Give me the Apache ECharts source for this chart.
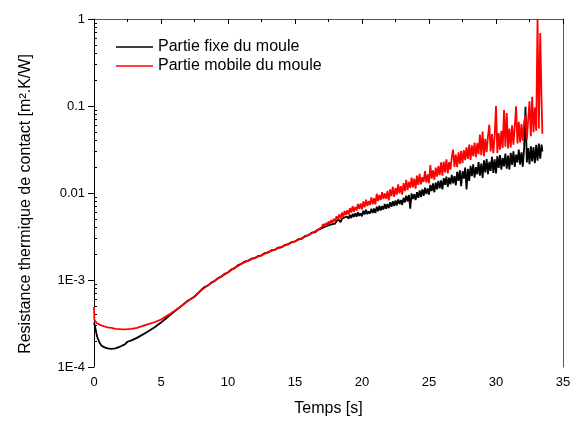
<!DOCTYPE html>
<html><head><meta charset="utf-8">
<script src="https://cdn.jsdelivr.net/npm/echarts@6/dist/echarts.min.js"></script>
<style>html,body{margin:0;padding:0;background:#fff}#c{width:577px;height:422px}</style>
</head><body><div id="c"></div><script>
const seriesNames = ['Partie fixe du moule', 'Partie mobile du moule'];
const yTickLabels = ['1E-4', '1E-3', '0.01', '0.1', '1'];

const time = [
 0, 0.03, 0.1, 0.2, 0.3, 0.45, 0.6, 0.8, 1.0, 1.3,
 1.6, 2.0, 2.3, 2.5, 2.8, 3.2, 3.6, 4.0, 4.5, 5.0,
 5.5, 6.0, 6.5, 7.0, 7.5,
 8.0, 8.25, 8.5, 8.75, 9.0, 9.25, 9.5, 9.75,
 10.0, 10.25, 10.5, 10.75, 11.0, 11.25, 11.5, 11.75,
 12.0, 12.25, 12.5, 12.75, 13.0, 13.25, 13.5, 13.75,
 14.0, 14.25, 14.5, 14.75, 15.0, 15.25, 15.5, 15.75,
 16.0, 16.25, 16.5, 16.75,
 17.0, 17.1, 17.2, 17.3, 17.4, 17.5, 17.6, 17.7, 17.8, 17.9,
 18.0, 18.1, 18.2, 18.3, 18.4, 18.5, 18.6, 18.7, 18.8, 18.9,
 19.0, 19.1, 19.2, 19.3, 19.4, 19.5, 19.6, 19.7, 19.8, 19.9,
 20.0, 20.1, 20.2, 20.3, 20.4, 20.5, 20.6, 20.7, 20.8, 20.9,
 21.0, 21.1, 21.2, 21.3, 21.4, 21.5, 21.6, 21.7, 21.8, 21.9,
 22.0, 22.1, 22.2, 22.3, 22.4, 22.5, 22.6, 22.7, 22.8, 22.9,
 23.0, 23.1, 23.2, 23.3, 23.4, 23.5, 23.6, 23.7, 23.8, 23.9,
 24.0, 24.1, 24.2, 24.3, 24.4, 24.5, 24.6, 24.7, 24.8, 24.9,
 25.0, 25.1, 25.2, 25.3, 25.4, 25.5, 25.6, 25.7, 25.8, 25.9,
 26.0, 26.1, 26.2, 26.3, 26.4, 26.5, 26.6, 26.7, 26.8, 26.9,
 27.0, 27.1, 27.2, 27.3, 27.4, 27.5, 27.6, 27.7, 27.8, 27.9,
 28.0, 28.1, 28.2, 28.3, 28.4, 28.5, 28.6, 28.7, 28.8, 28.9,
 29.0, 29.1, 29.2, 29.3, 29.4, 29.5, 29.6, 29.7, 29.8, 29.9,
 30.0, 30.1, 30.2, 30.3, 30.4, 30.5, 30.6, 30.7, 30.8, 30.9,
 31.0, 31.1, 31.2, 31.3, 31.4, 31.5, 31.6, 31.7, 31.8, 31.9,
 32.0, 32.1, 32.2, 32.3, 32.4, 32.5, 32.6, 32.7, 32.8, 32.9,
 33.0, 33.1, 33.2, 33.3, 33.4, 33.46
];

const partieFixe = [
 3.24e-4, 3.09e-4, 2.82e-4, 2.34e-4, 2.09e-4, 1.86e-4, 1.74e-4, 1.68e-4, 1.64e-4, 1.62e-4,
 1.64e-4, 1.73e-4, 1.82e-4, 1.95e-4, 2.02e-4, 2.16e-4, 2.34e-4, 2.54e-4, 2.85e-4, 3.24e-4,
 3.76e-4, 4.35e-4, 5.01e-4, 5.78e-4, 6.42e-4,
 7.67e-4, 8.30e-4, 8.62e-4, 9.35e-4, 9.70e-4, 1.05e-3, 1.09e-3, 1.18e-3,
 1.22e-3, 1.32e-3, 1.37e-3, 1.48e-3, 1.53e-3, 1.63e-3, 1.66e-3, 1.76e-3,
 1.78e-3, 1.89e-3, 1.91e-3, 2.04e-3, 2.07e-3, 2.20e-3, 2.22e-3, 2.36e-3,
 2.38e-3, 2.53e-3, 2.57e-3, 2.73e-3, 2.76e-3, 2.94e-3, 2.98e-3, 3.20e-3,
 3.26e-3, 3.50e-3, 3.54e-3, 3.80e-3,
 3.95e-3, 3.82e-3, 4.08e-3, 3.96e-3, 4.18e-3, 4.02e-3, 4.30e-3, 4.15e-3, 4.38e-3, 4.33e-3,
 4.45e-3, 4.78e-3, 4.55e-3, 4.90e-3, 4.62e-3, 5.05e-3, 4.80e-3, 5.25e-3, 4.98e-3, 5.35e-3,
 5.05e-3, 5.60e-3, 5.15e-3, 5.75e-3, 5.30e-3, 5.85e-3, 5.35e-3, 6.00e-3, 5.45e-3, 5.85e-3,
 5.40e-3, 6.25e-3, 5.65e-3, 6.40e-3, 5.70e-3, 6.15e-3, 5.80e-3, 6.60e-3, 5.90e-3, 6.65e-3,
 5.90e-3, 6.95e-3, 6.15e-3, 7.15e-3, 6.30e-3, 7.05e-3, 6.45e-3, 7.50e-3, 6.60e-3, 7.45e-3,
 6.70e-3, 7.85e-3, 6.95e-3, 8.05e-3, 7.10e-3, 8.20e-3, 7.20e-3, 8.45e-3, 7.45e-3, 8.30e-3,
 7.30e-3, 8.80e-3, 7.80e-3, 9.30e-3, 8.00e-3, 9.50e-3, 6.60e-3, 9.90e-3, 8.50e-3, 9.70e-3,
 8.30e-3, 1.02e-2, 8.80e-3, 1.07e-2, 9.00e-3, 1.10e-2, 9.30e-3, 1.15e-2, 9.70e-3, 1.13e-2,
 9.60e-3, 1.24e-2, 1.05e-2, 1.29e-2, 1.02e-2, 1.32e-2, 1.10e-2, 1.38e-2, 1.13e-2, 1.40e-2,
 1.10e-2, 1.48e-2, 1.24e-2, 1.54e-2, 1.18e-2, 1.50e-2, 1.26e-2, 1.62e-2, 1.29e-2, 1.56e-2,
 1.22e-2, 1.75e-2, 1.38e-2, 1.82e-2, 1.20e-2, 1.78e-2, 1.46e-2, 1.96e-2, 1.10e-2, 1.89e-2,
 1.38e-2, 2.05e-2, 1.56e-2, 2.14e-2, 1.50e-2, 1.98e-2, 1.64e-2, 2.26e-2, 1.58e-2, 2.18e-2,
 1.49e-2, 2.38e-2, 1.72e-2, 2.46e-2, 1.65e-2, 2.28e-2, 1.80e-2, 2.60e-2, 1.70e-2, 2.44e-2,
 1.68e-2, 2.65e-2, 1.94e-2, 2.72e-2, 1.85e-2, 2.54e-2, 2.02e-2, 2.84e-2, 1.90e-2, 2.70e-2,
 1.86e-2, 2.90e-2, 2.10e-2, 3.02e-2, 2.00e-2, 2.76e-2, 2.24e-2, 3.15e-2, 2.12e-2, 2.94e-2,
 2.00e-2, 3.30e-2, 9.80e-2, 2.24e-2, 3.28e-2, 2.15e-2, 3.45e-2, 2.30e-2, 3.36e-2, 2.20e-2,
 3.58e-2, 2.35e-2, 3.70e-2, 2.48e-2, 3.60e-2, 3.00e-2
];

const partieMobile = [
 4.90e-4, 3.47e-4, 3.31e-4, 3.20e-4, 3.13e-4, 3.05e-4, 2.99e-4, 2.92e-4, 2.85e-4, 2.82e-4,
 2.75e-4, 2.72e-4, 2.71e-4, 2.72e-4, 2.74e-4, 2.82e-4, 2.95e-4, 3.09e-4, 3.27e-4, 3.51e-4,
 3.92e-4, 4.40e-4, 5.00e-4, 5.72e-4, 6.48e-4,
 7.60e-4, 8.12e-4, 8.68e-4, 9.20e-4, 9.82e-4, 1.04e-3, 1.10e-3, 1.16e-3,
 1.23e-3, 1.30e-3, 1.38e-3, 1.45e-3, 1.54e-3, 1.60e-3, 1.67e-3, 1.73e-3,
 1.80e-3, 1.86e-3, 1.93e-3, 2.01e-3, 2.09e-3, 2.16e-3, 2.24e-3, 2.32e-3,
 2.40e-3, 2.49e-3, 2.60e-3, 2.70e-3, 2.80e-3, 2.90e-3, 3.02e-3, 3.14e-3,
 3.30e-3, 3.45e-3, 3.62e-3, 3.82e-3,
 4.05e-3, 4.40e-3, 4.15e-3, 4.52e-3, 4.25e-3, 4.70e-3, 4.40e-3, 4.88e-3, 4.55e-3, 5.05e-3,
 4.70e-3, 5.40e-3, 4.95e-3, 5.65e-3, 5.10e-3, 5.95e-3, 5.30e-3, 6.20e-3, 5.60e-3, 6.35e-3,
 5.65e-3, 6.70e-3, 5.95e-3, 7.05e-3, 6.10e-3, 6.90e-3, 6.30e-3, 7.50e-3, 6.55e-3, 7.60e-3,
 6.50e-3, 8.00e-3, 6.85e-3, 8.40e-3, 7.10e-3, 8.10e-3, 7.30e-3, 8.90e-3, 7.40e-3, 8.70e-3,
 7.40e-3, 9.80e-3, 8.10e-3, 9.50e-3, 8.30e-3, 1.02e-2, 8.50e-3, 9.90e-3, 8.60e-3, 1.06e-2,
 8.20e-3, 1.10e-2, 9.20e-3, 1.18e-2, 9.00e-3, 1.14e-2, 9.60e-3, 1.26e-2, 9.90e-3, 1.20e-2,
 9.60e-3, 1.30e-2, 1.05e-2, 1.42e-2, 1.08e-2, 1.34e-2, 1.14e-2, 1.50e-2, 1.16e-2, 1.46e-2,
 1.12e-2, 1.58e-2, 1.24e-2, 1.66e-2, 1.26e-2, 1.52e-2, 1.34e-2, 1.78e-2, 1.32e-2, 1.64e-2,
 1.30e-2, 2.10e-2, 1.46e-2, 1.82e-2, 1.42e-2, 1.96e-2, 1.54e-2, 2.04e-2, 1.60e-2, 2.25e-2,
 1.58e-2, 2.30e-2, 1.72e-2, 2.44e-2, 1.68e-2, 2.26e-2, 1.86e-2, 2.58e-2, 3.15e-2, 2.00e-2,
 2.76e-2, 1.98e-2, 2.94e-2, 2.16e-2, 3.05e-2, 2.20e-2, 3.12e-2, 2.38e-2, 3.35e-2, 2.46e-2,
 3.60e-2, 2.40e-2, 3.52e-2, 2.65e-2, 3.80e-2, 2.58e-2, 3.74e-2, 2.80e-2, 4.70e-2, 2.72e-2,
 5.10e-2, 2.65e-2, 4.20e-2, 2.95e-2, 4.46e-2, 6.10e-2, 3.00e-2, 4.75e-2, 2.86e-2, 4.50e-2,
 1.00e-1, 2.88e-2, 4.90e-2, 3.15e-2, 5.20e-2, 3.30e-2, 9.00e-2, 3.40e-2, 8.30e-2, 3.25e-2,
 5.50e-2, 3.35e-2, 6.00e-2, 3.60e-2, 5.80e-2, 9.90e-2, 3.70e-2, 6.60e-2, 3.80e-2, 6.20e-2,
 4.00e-2, 6.50e-2, 7.90e-2, 4.10e-2, 7.00e-2, 1.13e-1, 4.50e-2, 1.28e-1, 5.00e-2, 9.60e-2,
 5.20e-2, 1.00, 5.50e-2, 6.90e-1, 1.18e-1, 4.80e-2
];

if (time.length !== partieFixe.length || time.length !== partieMobile.length) {
  console.error('length mismatch', time.length, partieFixe.length, partieMobile.length);
}

const zip = vals => time.map((t, i) => [t, vals[i]]);
const minorLog = [];
for (let n = -4; n < 0; n++) for (let k = 2; k <= 9; k++) minorLog.push(n + Math.log10(k));

const FONT = '"Liberation Sans", Arial, sans-serif';
const chart = echarts.init(document.getElementById('c'), null, {renderer: 'canvas'});
chart.setOption({
  animation: false,
  backgroundColor: '#fff',
  textStyle: {fontFamily: FONT},
  grid: {left: 94, right: 14, top: 19, bottom: 54, containLabel: false},
  legend: {
    left: 111, top: 34, orient: 'vertical', icon: 'rect', itemWidth: 37, itemHeight: 1.6, itemGap: 3,
    textStyle: {fontSize: 16, color: '#000', fontFamily: FONT},
    data: seriesNames
  },
  xAxis: [{
    type: 'value', min: 0, max: 35, interval: 5,
    axisLine: {lineStyle: {color: '#000', width: 1}},
    axisTick: {show: true, length: 5, lineStyle: {color: '#000'}},
    minorTick: {show: true, splitNumber: 2, length: 3, lineStyle: {color: '#000'}},
    axisLabel: {fontSize: 13, color: '#000', margin: 9, fontFamily: FONT},
    splitLine: {show: false},
    name: 'Temps [s]', nameLocation: 'middle', nameGap: 34,
    nameTextStyle: {fontSize: 16, color: '#000', fontFamily: FONT}
  }, {
    type: 'value', position: 'top', min: 0, max: 35,
    axisLine: {show: true, onZero: false, lineStyle: {color: '#555'}},
    axisTick: {show: false}, axisLabel: {show: false}, splitLine: {show: false}
  }],
  yAxis: [{
    type: 'log', logBase: 10, min: 1e-4, max: 1,
    axisLine: {show: true, lineStyle: {color: '#000', width: 1}},
    axisTick: {show: true, length: 6, lineStyle: {color: '#000'}},
    axisLabel: {
      fontSize: 13, color: '#000', margin: 9, fontFamily: FONT,
      formatter: v => yTickLabels[Math.round(Math.log10(v)) + 4] || ''
    },
    splitLine: {show: false},
    name: 'Resistance thermique de contact [m².K/W]', nameLocation: 'middle', nameGap: 60,
    nameTextStyle: {fontSize: 16, color: '#000', fontFamily: FONT, padding: [0, 22, 0, 0]}
  }, {
    type: 'value', min: -4, max: 0, position: 'left',
    axisLine: {show: false}, axisLabel: {show: false}, splitLine: {show: false},
    axisTick: {show: true, inside: true, length: 3, customValues: minorLog, lineStyle: {color: '#000'}}
  }, {
    type: 'value', min: 0, max: 1, position: 'right',
    axisLine: {show: true, onZero: false, lineStyle: {color: '#555'}},
    axisTick: {show: false}, axisLabel: {show: false}, splitLine: {show: false}
  }],
  series: [{
    name: seriesNames[0], type: 'line', xAxisIndex: 0, yAxisIndex: 0,
    data: zip(partieFixe), symbol: 'none', showSymbol: false,
    lineStyle: {color: '#000', width: 1.8}, itemStyle: {color: '#000'}, z: 2
  }, {
    name: seriesNames[1], type: 'line', xAxisIndex: 0, yAxisIndex: 0,
    data: zip(partieMobile), symbol: 'none', showSymbol: false,
    lineStyle: {color: '#ff0000', width: 1.8}, itemStyle: {color: '#ff0000'}, z: 3
  }]
});
</script></body></html>
